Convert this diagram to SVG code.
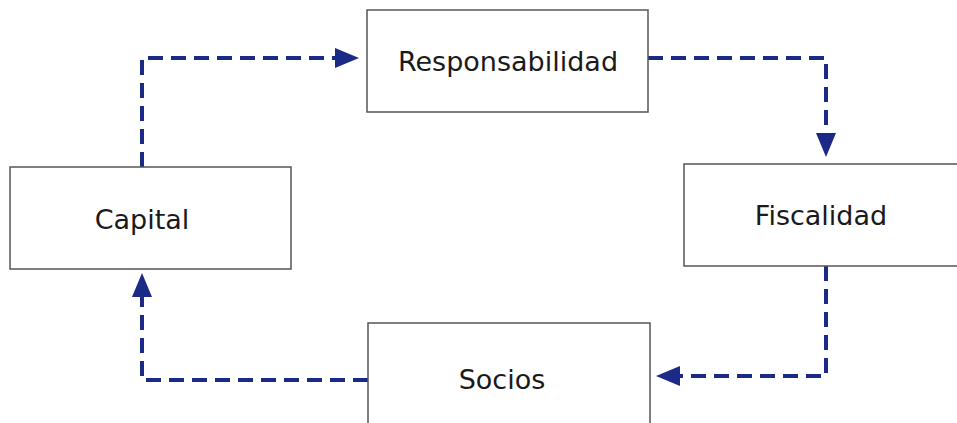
<svg xmlns="http://www.w3.org/2000/svg" width="957" height="423" viewBox="0 0 957 423">
  <style>
    .box { fill: #ffffff; stroke: #555555; stroke-width: 1.5; }
    .lbl { font-family: "DejaVu Sans", Verdana, sans-serif; font-size: 27px; fill: #1a1a1a; text-anchor: middle; }
    .conn { fill: none; stroke: #1b2a87; stroke-width: 4; stroke-dasharray: 15 8; stroke-linejoin: miter; }
  </style>
  <defs>
    <marker id="arrow" markerUnits="userSpaceOnUse" viewBox="0 -10 24 20" refX="0" refY="0" markerWidth="24" markerHeight="20" orient="auto">
      <path d="M0,-10 L24,0 L0,10 Z" fill="#1b2a87"/>
    </marker>
  </defs>
  <rect width="957" height="423" fill="#ffffff"/>
  <g id="connectors">
    <path class="conn" d="M142,167 L142,58 L335,58" marker-end="url(#arrow)"/>
    <path class="conn" d="M648,58 L826,58 L826,133" marker-end="url(#arrow)"/>
    <path class="conn" d="M826,266 L826,376 L680,376" marker-end="url(#arrow)"/>
    <path class="conn" d="M368,380 L142,380 L142,297" marker-end="url(#arrow)"/>
  </g>
  <g id="node-responsabilidad">
    <rect class="box" x="367" y="10" width="281" height="102"/>
    <text class="lbl" x="508" y="71">Responsabilidad</text>
  </g>
  <g id="node-capital">
    <rect class="box" x="10" y="167" width="281" height="102"/>
    <text class="lbl" x="142" y="229">Capital</text>
  </g>
  <g id="node-fiscalidad">
    <rect class="box" x="684" y="164" width="282" height="102"/>
    <text class="lbl" x="821" y="225">Fiscalidad</text>
  </g>
  <g id="node-socios">
    <rect class="box" x="368" y="323" width="282" height="104"/>
    <text class="lbl" x="502" y="389">Socios</text>
  </g>
</svg>
